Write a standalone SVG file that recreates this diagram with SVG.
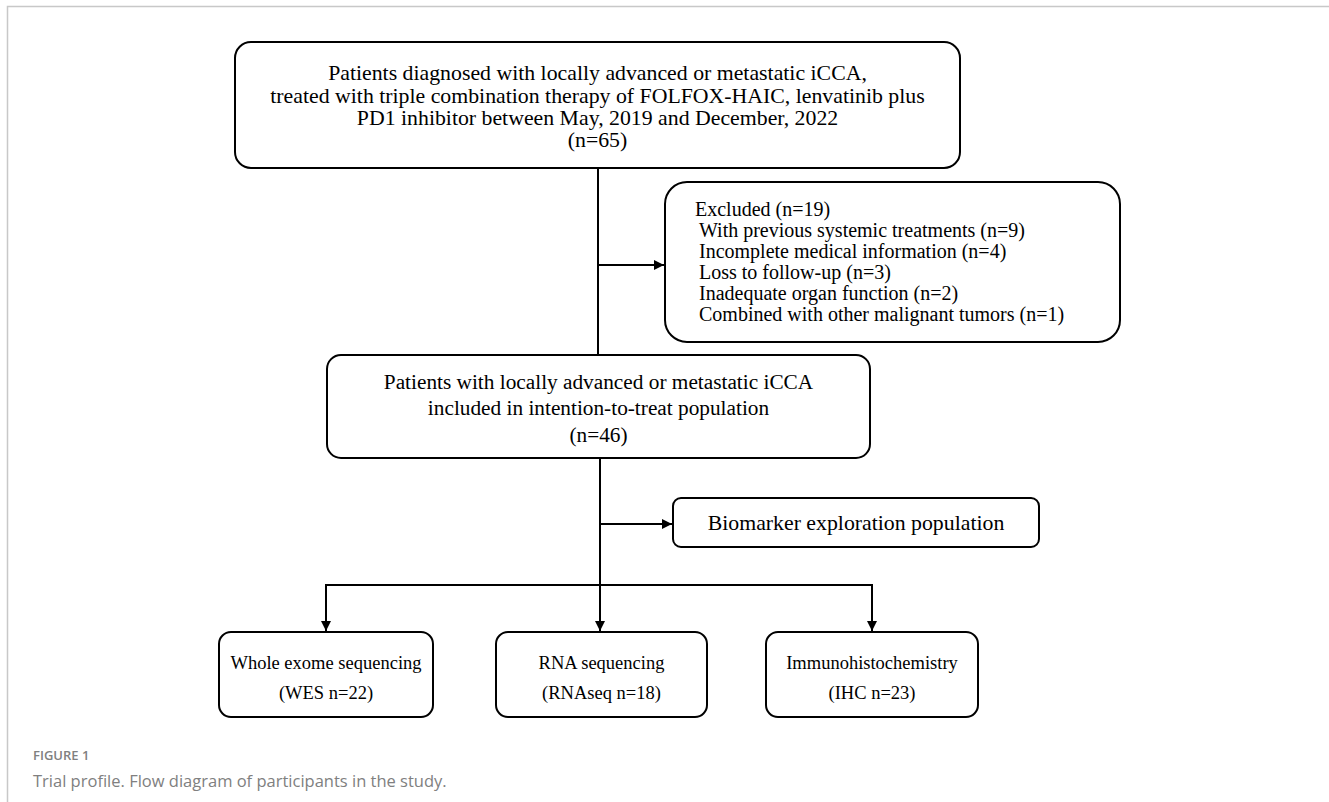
<svg xmlns="http://www.w3.org/2000/svg" width="1329" height="802" viewBox="0 0 1329 802">
<defs>
<marker id="ah" viewBox="0 0 10 10" refX="10" refY="5" markerWidth="10" markerHeight="10" markerUnits="userSpaceOnUse" orient="auto">
<path d="M0,0 L10,5 L0,10 z" fill="#000"/>
</marker>
<style>
.box{fill:#fff;stroke:#000;stroke-width:2}
.t{font-family:"Liberation Serif","Times New Roman",serif;fill:#000}
.c{text-anchor:middle}
.big{font-size:21.8px}
.itt{font-size:21.3px}
.mid{font-size:20px}
.sm{font-size:18.5px}
.ln{fill:none;stroke:#000;stroke-width:2}
.cap{font-family:"Open Sans","Noto Sans",sans-serif;fill:#808080}
</style>
</defs>
<rect width="1329" height="802" fill="#fff"/>
<path d="M7.5,802 V6.5 H1329" fill="none" stroke="#c8c8c8" stroke-width="1.5"/>

<g id="connectors">
<path class="ln" d="M598,168 V355"/>
<path class="ln" d="M598,265 H664" marker-end="url(#ah)"/>
<path class="ln" d="M600,458 V631" marker-end="url(#ah)"/>
<path class="ln" d="M600,524 H672" marker-end="url(#ah)"/>
<path class="ln" d="M326,585 H872"/>
<path class="ln" d="M326,584 V631" marker-end="url(#ah)"/>
<path class="ln" d="M872,584 V631" marker-end="url(#ah)"/>
</g>

<g id="n-enrolled">
<rect class="box" x="235" y="42" width="725" height="126" rx="16"/>
<text class="t big c" x="597.5" y="80">Patients diagnosed with locally advanced or metastatic iCCA,</text>
<text class="t big c" x="597.5" y="103">treated with triple combination therapy of FOLFOX-HAIC, lenvatinib plus</text>
<text class="t big c" x="597.5" y="125">PD1 inhibitor between May, 2019 and December, 2022</text>
<text class="t big c" x="597.5" y="147">(n=65)</text>
</g>

<g id="n-excluded">
<rect class="box" x="665" y="182" width="455" height="160" rx="22"/>
<text class="t mid" x="695" y="216">Excluded (n=19)</text>
<text class="t mid" x="699" y="237">With previous systemic treatments (n=9)</text>
<text class="t mid" x="699" y="258">Incomplete medical information (n=4)</text>
<text class="t mid" x="699" y="279">Loss to follow-up (n=3)</text>
<text class="t mid" x="699" y="300">Inadequate organ function (n=2)</text>
<text class="t mid" x="699" y="321">Combined with other malignant tumors (n=1)</text>
</g>

<g id="n-itt">
<rect class="box" x="327" y="355" width="543" height="103" rx="14"/>
<text class="t itt c" x="598.5" y="389">Patients with locally advanced or metastatic iCCA</text>
<text class="t itt c" x="598.5" y="415">included in intention-to-treat population</text>
<text class="t itt c" x="598.5" y="442">(n=46)</text>
</g>

<g id="n-biomarker">
<rect class="box" x="673" y="498" width="366" height="49" rx="8"/>
<text class="t big c" x="856" y="530">Biomarker exploration population</text>
</g>

<g id="n-wes">
<rect class="box" x="219" y="632" width="214" height="85" rx="12"/>
<text class="t sm c" x="326" y="669">Whole exome sequencing</text>
<text class="t sm c" x="326" y="699">(WES n=22)</text>
</g>

<g id="n-rna">
<rect class="box" x="496" y="632" width="211" height="85" rx="12"/>
<text class="t sm c" x="601.5" y="669">RNA sequencing</text>
<text class="t sm c" x="601.5" y="699">(RNAseq n=18)</text>
</g>

<g id="n-ihc">
<rect class="box" x="766" y="632" width="212" height="85" rx="12"/>
<text class="t sm c" x="872" y="669">Immunohistochemistry</text>
<text class="t sm c" x="872" y="699">(IHC n=23)</text>
</g>

<text class="cap" x="33" y="760" font-size="13" font-weight="600">FIGURE 1</text>
<text class="cap" x="33" y="787" font-size="16.5">Trial profile. Flow diagram of participants in the study.</text>
</svg>
